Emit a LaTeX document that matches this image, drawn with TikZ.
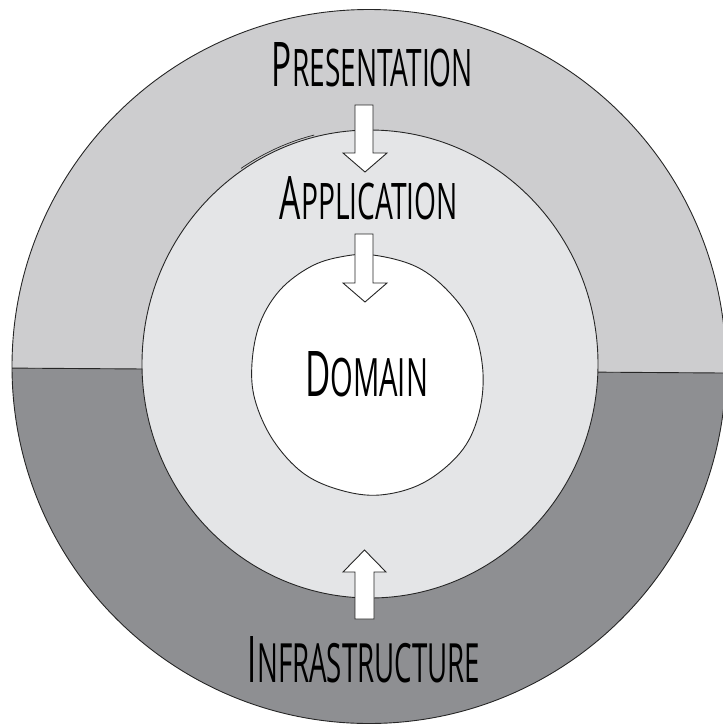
\documentclass[tikz,border=0pt]{standalone}
\usepackage{fontspec}
\setmainfont{Open Sans}
\usepackage{graphicx}
\definecolor{topgray}{HTML}{CDCDCF}
\definecolor{botgray}{HTML}{8E8F92}
\definecolor{midgray}{HTML}{E4E5E7}
\newcommand{\fakesc}[2]{{\fontsize{20}{20}\selectfont #1}{\fontsize{16.8}{17}\selectfont #2}}
\newcommand{\lbl}[4]{\resizebox{#1pt}{#2pt}{\fakesc{#3}{#4}}}
\tikzset{
  ring/.style={draw=black!85, line width=0.9pt},
  blockarrow/.style={fill=white, draw=black!85, line width=0.9pt, line join=miter},
  layerlabel/.style={inner sep=0pt, text=black}
}
\begin{document}
\begin{tikzpicture}[x=1pt,y=-1pt]
\useasboundingbox (0,0) rectangle (723,724);
\clip (0,0) rectangle (723,724);
\coordinate (c) at (369,366.5);
\begin{scope}
  \clip (0,0) -- (723,0) -- (723,373) -- (0,368) -- cycle;
  \fill[topgray] (c) circle[radius=357pt];
\end{scope}
\begin{scope}
  \clip (0,368) -- (723,373) -- (723,724) -- (0,724) -- cycle;
  \fill[botgray] (c) circle[radius=357pt];
\end{scope}
\begin{scope}
  \clip (c) circle[radius=357pt];
  \draw[ring] (0,368) -- (723,373);
\end{scope}
\draw[ring] (c) circle[radius=357pt];
% middle ring (application)
\coordinate (m) at (370,364);
\filldraw[fill=midgray, ring] (m) ellipse[x radius=228pt, y radius=234pt];
\draw[ring, line width=0.7pt] plot[domain=236:256, samples=20] ({370+230.5*cos(\x)},{364+236*sin(\x)});
% inner (domain)
\filldraw[fill=white, ring] plot[smooth cycle, tension=0.6] coordinates {
  (340,257) (373,255) (417,267) (450,293) (473,327) (483,373) (478,417)
  (460,453) (423,483) (380,495) (340,490) (303,473) (273,440) (255,400)
  (252,363) (260,323) (280,290) (310,267)};
% arrows
\filldraw[blockarrow] (355,105) -- (373,105) -- (373,153) -- (387,153) -- (365,172) -- (343,153) -- (355,153) -- cycle;
\filldraw[blockarrow] (355,234) -- (373,234) -- (373,283) -- (387,283) -- (365,302) -- (343,283) -- (355,283) -- cycle;
\filldraw[blockarrow] (355,619) -- (374,619) -- (374,572) -- (386,572) -- (364.5,550) -- (343,572) -- (355,572) -- cycle;
% labels
\node[layerlabel] (pres) at (372.5,65) {\lbl{201}{44}{P}{RESENTATION}};
\node[layerlabel] (app) at (369,198.5) {\lbl{178}{43}{A}{PPLICATION}};
\node[layerlabel] (dom) at (366.5,374.5) {\lbl{123}{45}{D}{OMAIN}};
\node[layerlabel] (infra) at (364,660) {\lbl{232}{46}{I}{NFRASTRUCTURE}};
\end{tikzpicture}
\end{document}
